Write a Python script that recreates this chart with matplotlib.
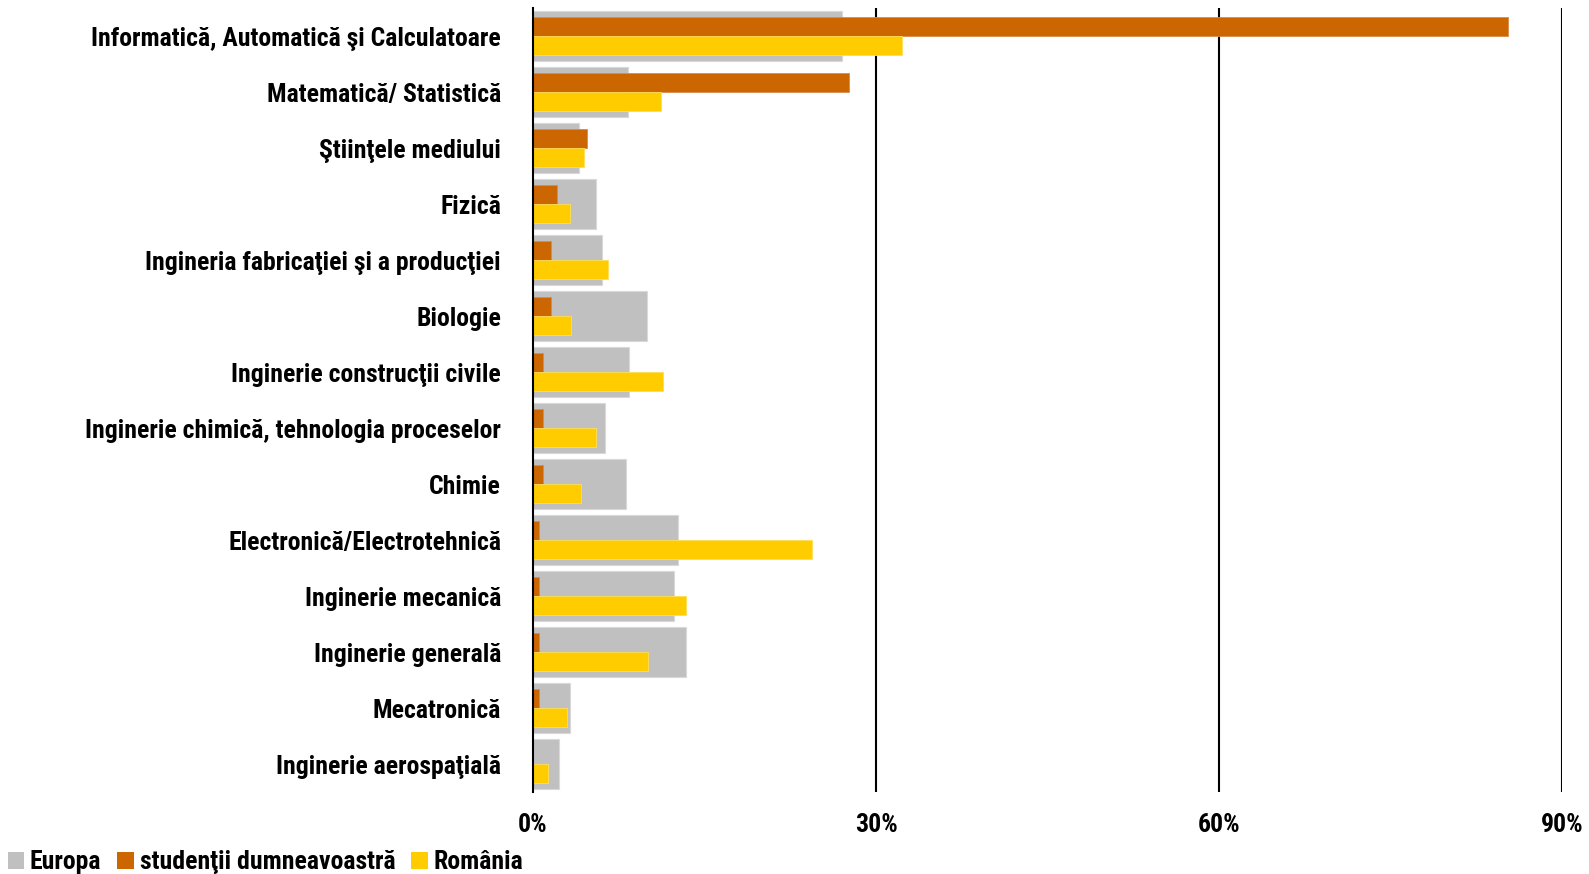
import matplotlib
matplotlib.use("Agg")
import matplotlib.pyplot as plt
from matplotlib import font_manager
from matplotlib.patches import Patch
import numpy as np

categories = [
    "Informatică, Automatică şi Calculatoare",
    "Matematică/ Statistică",
    "Ştiinţele mediului",
    "Fizică",
    "Ingineria fabricaţiei şi a producţiei",
    "Biologie",
    "Inginerie construcţii civile",
    "Inginerie chimică, tehnologia proceselor",
    "Chimie",
    "Electronică/Electrotehnică",
    "Inginerie mecanică",
    "Inginerie generală",
    "Mecatronică",
    "Inginerie aerospaţială",
]
europa = [27.0, 8.3, 4.0, 5.5, 6.0, 10.0, 8.4, 6.3, 8.1, 12.7, 12.3, 13.4, 3.2, 2.3]
studenti = [85.3, 27.6, 4.7, 2.1, 1.6, 1.6, 0.9, 0.9, 0.9, 0.5, 0.5, 0.5, 0.5, 0.0]
romania = [32.3, 11.2, 4.5, 3.2, 6.6, 3.3, 11.4, 5.5, 4.2, 24.4, 13.4, 10.1, 3.0, 1.3]
series_names = ["Europa", "studenţii dumneavoastră", "România"]
xticks = [0, 30, 60, 90]
xtick_labels = ["0%", "30%", "60%", "90%"]

# choose a narrow bold sans if available
entries = font_manager.fontManager.ttflist
names = {f.name for f in entries}
fam = None
stretch = "normal"
fs = 14.5
for cand, size in (("Liberation Sans Narrow", 17.5), ("Arial Narrow", 17.5),
                   ("Roboto Condensed", 18.5), ("Open Sans Condensed", 17.0)):
    if cand in names:
        fam, fs = cand, size
        break
if fam is None:
    for cand in ("Noto Sans", "DejaVu Sans", "Open Sans"):
        cond = [f for f in entries if f.name == cand and str(f.stretch) in
                ("condensed", "semi-condensed", "75", "87.5", "62.5")]
        if cond:
            fam, stretch, fs = cand, "condensed", 16.0
            break
if fam is None:
    fam = "Liberation Sans"
plt.rcParams["font.family"] = [fam, "DejaVu Sans"]
plt.rcParams["font.weight"] = "bold"
plt.rcParams["font.stretch"] = stretch

W, H, DPI = 1589, 874, 100
fig = plt.figure(figsize=(W / DPI, H / DPI), dpi=DPI)
left, right, top, bottom = 533, 1562, 8, 792
ax = fig.add_axes([left / W, 1 - bottom / H, (right - left) / W, (bottom - top) / H])

y = np.arange(len(categories))
c_gray, c_orange, c_yellow = "#C0C0C0", "#CC6600", "#FFCC00"
ax.barh(y, europa, height=0.89, color=c_gray, edgecolor="#D9D9D9", linewidth=0.8, zorder=2)
ax.barh(y - 0.17, studenti, height=0.33, color=c_orange, edgecolor="#D98C4A", linewidth=0.6, zorder=3)
ax.barh(y + 0.17, romania, height=0.34, color=c_yellow, edgecolor="#FFDD55", linewidth=0.6, zorder=3)

ax.set_xlim(0, 90)
ax.set_ylim(len(categories) - 0.5, -0.5)
ax.set_yticks(y)
ax.set_yticklabels(categories, fontsize=fs, fontweight="bold")
ax.set_xticks(xticks)
ax.set_xticklabels(xtick_labels, fontsize=fs, fontweight="bold")
ax.tick_params(axis="both", length=0)
ax.tick_params(axis="y", pad=23)
ax.tick_params(axis="x", pad=15)
for s in ["top", "right", "bottom"]:
    ax.spines[s].set_visible(False)
ax.spines["left"].set_linewidth(1.5)
ax.spines["left"].set_color("black")
ax.spines["left"].set_zorder(4)
for xv in xticks[1:]:
    ax.axvline(xv, color="black", linewidth=1.5, zorder=1)

handles = [Patch(facecolor=c, edgecolor="none") for c in (c_gray, c_orange, c_yellow)]
fig.legend(handles, series_names, loc="lower left", bbox_to_anchor=(5 / W, -3 / H),
           ncol=3, frameon=False, prop={"size": fs, "weight": "bold"},
           handlelength=0.65, handleheight=0.65, handletextpad=0.22,
           columnspacing=0.62, borderpad=0.1, borderaxespad=0)

fig.savefig("out.png", dpi=DPI)
